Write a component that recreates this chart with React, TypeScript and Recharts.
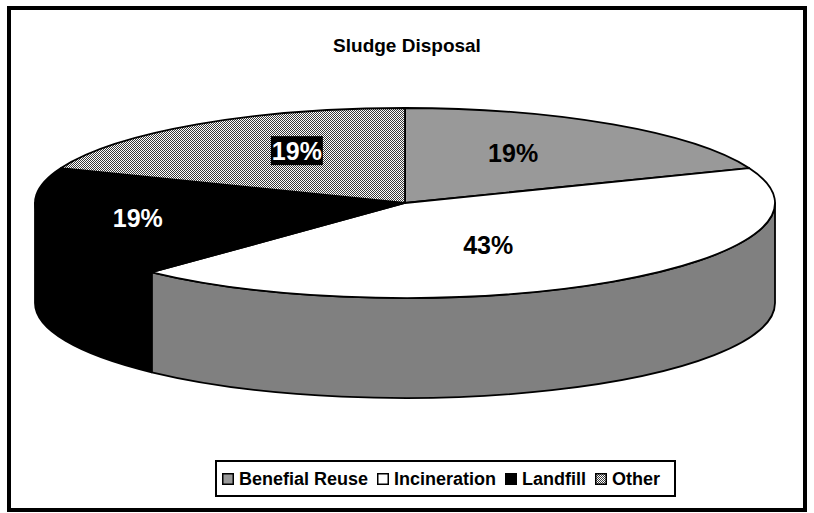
import React from "react";
import { PieChart, Pie, Legend } from "recharts";

const categories = ["Benefial Reuse", "Incineration", "Landfill", "Other"];
const shares = [19, 43, 19, 19];

const data = categories.map((name, i) => ({ name, value: shares[i] }));

// styling per slice
const TOP_FILL = ["#999999", "#ffffff", "#000000", "url(#hatch)"];
const SIDE_FILL = ["#808080", "#808080", "#000000", "url(#hatch)"];
const LEGEND_FILL = ["#999999", "#ffffff", "#000000", "url(#hatch)"];
const LABEL_COLOR = ["#000", "#000", "#fff", "#fff"];
const LABEL_BOX = ["", "", "", "#000"];
// label spot as fraction of the ellipse radii along the mid angle
const LABEL_FX = [0.52, 0.4, 0.74, 0.52];
const LABEL_FY = [0.64, 0.53, 0.72, 0.66];

const TILT = 95 / 370;
const DEPTH = 100;
const FONT = '"Liberation Sans", Arial, sans-serif';

const idxOf = (p: any) => {
  const n = p.name ?? p.payload?.name;
  return categories.indexOf(n);
};

const Slice3D = (props: any) => {
  const { cx, cy, outerRadius, startAngle, endAngle } = props;
  const i = idxOf(props);
  const rx = outerRadius;
  const ry = outerRadius * TILT;
  const t1 = 90 - startAngle;
  const t2 = 90 - endAngle;
  const P = (t: number, dy = 0) => {
    const a = (t * Math.PI) / 180;
    return `${cx + rx * Math.sin(a)},${cy - ry * Math.cos(a) + dy}`;
  };
  const large = t2 - t1 > 180 ? 1 : 0;
  const top = `M${cx},${cy} L${P(t1)} A${rx},${ry} 0 ${large} 1 ${P(t2)} Z`;
  // front wall = part of the slice in the lower half of the ellipse
  const s1 = Math.max(t1, 90);
  const s2 = Math.min(t2, 270);
  const side =
    s2 > s1
      ? `M${P(s1)} A${rx},${ry} 0 0 1 ${P(s2)} L${P(s2, DEPTH)} A${rx},${ry} 0 0 0 ${P(s1, DEPTH)} Z`
      : null;
  return (
    <g>
      {side && <path d={side} fill={SIDE_FILL[i]} stroke="#000" strokeWidth={1.8} strokeLinejoin="round" />}
      <path d={top} fill={TOP_FILL[i]} stroke="#000" strokeWidth={1.8} strokeLinejoin="round" />
    </g>
  );
};

const renderLabel = (props: any) => {
  const { cx, cy, midAngle, outerRadius, percent } = props;
  const i = idxOf(props);
  const t = ((90 - midAngle) * Math.PI) / 180;
  const x = cx + outerRadius * LABEL_FX[i] * Math.sin(t);
  const y = cy - outerRadius * TILT * LABEL_FY[i] * Math.cos(t);
  const txt = `${Math.round(percent * 100)}%`;
  return (
    <g>
      {LABEL_BOX[i] && <rect x={x - 26} y={y - 15} width={52} height={29} fill={LABEL_BOX[i]} />}
      <text
        x={x}
        y={y}
        textAnchor="middle"
        dominantBaseline="central"
        fontFamily={FONT}
        fontWeight="bold"
        fontSize={25}
        fill={LABEL_COLOR[i]}
      >
        {txt}
      </text>
    </g>
  );
};

const LegendBox = () => (
  <div
    style={{
      display: "flex",
      alignItems: "center",
      border: "2px solid #000",
      background: "#fff",
      padding: "7px 14px 6px 5px",
      fontFamily: FONT,
      fontWeight: "bold",
      fontSize: 18,
      lineHeight: "20px",
      whiteSpace: "nowrap",
    }}
  >
    {categories.map((c, i) => (
      <div key={c} style={{ display: "flex", alignItems: "center", marginRight: i < categories.length - 1 ? 9 : 0 }}>
        <svg width={12} height={12} style={{ marginRight: 5 }}>
          <rect x={0.75} y={0.75} width={10.5} height={10.5} fill={LEGEND_FILL[i]} stroke="#000" strokeWidth={1.5} />
        </svg>
        <span>{c}</span>
      </div>
    ))}
  </div>
);

export default function App() {
  return (
    <div style={{ position: "absolute", left: 0, top: 0, width: 814, height: 513, background: "#fff" }}>
      <svg width={0} height={0} style={{ position: "absolute" }}>
        <defs>
          <pattern id="hatch" patternUnits="userSpaceOnUse" width={2} height={2}>
            <rect width={2} height={2} fill="#fff" />
            <rect x={0} y={0} width={1} height={1} fill="#3a3a3a" />
            <rect x={1} y={1} width={1} height={1} fill="#3a3a3a" />
          </pattern>
        </defs>
      </svg>
      <div
        style={{
          position: "absolute",
          left: 7,
          top: 6,
          width: 800,
          height: 506,
          border: "4px solid #000",
          boxSizing: "border-box",
        }}
      />
      <div
        style={{
          position: "absolute",
          left: 0,
          top: 35,
          width: 814,
          textAlign: "center",
          fontFamily: FONT,
          fontWeight: "bold",
          fontSize: 19,
          lineHeight: "21px",
        }}
      >
        Sludge Disposal
      </div>
      <div style={{ position: "absolute", left: 0, top: 0 }}>
        <PieChart width={814} height={513} margin={{ top: 0, right: 0, bottom: 0, left: 0 }}>
          <Pie
            data={data}
            dataKey="value"
            nameKey="name"
            cx={405}
            cy={203}
            outerRadius={370}
            startAngle={90}
            endAngle={-270}
            stroke="none"
            shape={Slice3D}
            label={renderLabel}
            labelLine={false}
            isAnimationActive={false}
          />
          <Legend
            content={() => <LegendBox />}
            wrapperStyle={{ position: "absolute", left: 215, top: 460, width: "auto", bottom: "auto" }}
          />
        </PieChart>
      </div>
    </div>
  );
}
